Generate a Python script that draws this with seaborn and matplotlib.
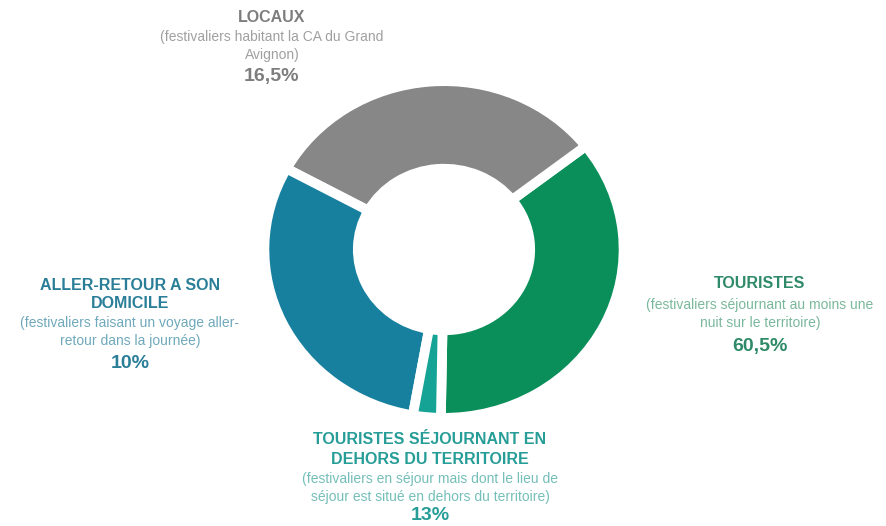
import matplotlib
matplotlib.use("Agg")
import matplotlib.pyplot as plt
import seaborn as sns

sns.set_theme(style="white")
plt.rcParams['font.family'] = ['Liberation Sans', 'DejaVu Sans']

# slices in drawing order (counter-clockwise from the bottom)
categories = ["TOURISTES", "LOCAUX", "ALLER-RETOUR A SON\nDOMICILE",
              "TOURISTES SÉJOURNANT EN\nDEHORS DU TERRITOIRE"]
slice_shares = [35.8, 31.5, 30.2, 2.5]   # share of the ring as drawn
label_pcts = ["60,5%", "16,5%", "10%", "13%"]
descriptions = [
    "(festivaliers séjournant au moins une\nnuit sur le territoire)",
    "(festivaliers habitant la CA du Grand\nAvignon)",
    "(festivaliers faisant un voyage aller-\nretour dans la journée)",
    "(festivaliers en séjour mais dont le lieu de\nséjour est situé en dehors du territoire)",
]
slice_colors = ["#0b8f5a", "#878787", "#17809f", "#15a395"]
title_colors = ["#2e8a68", "#7d7d7d", "#2a7e98", "#279d97"]
desc_colors = ["#7ab89c", "#a0a0a0", "#6fa9bb", "#74bfb9"]

W, H = 887, 526
fig = plt.figure(figsize=(W / 100, H / 100), dpi=100)
ax = fig.add_axes([0, 0, 1, 1])

cx, cy = 444, 249.5      # ring centre in pixels (from top)
rx, ry = 176, 165        # ring is slightly squashed vertically

ax.pie(slice_shares, colors=slice_colors, startangle=-91, counterclock=True,
       radius=1.0, wedgeprops=dict(width=0.52, edgecolor="white", linewidth=7))
ax.set_aspect("auto")
pad = 3.5 / rx  # account for white edge shrinking the outer boundary
ax.set_xlim(-cx / rx * (1 - pad), (W - cx) / rx * (1 - pad))
ax.set_ylim(-(H - cy) / ry * (1 - pad), cy / ry * (1 - pad))
ax.axis("off")

# label blocks: centre x, title y, desc y, pct y (pixels from top)
label_pos = [
    (760, [283], [305, 323], 346),
    (272, [17], [37, 55], 77),
    (130, [285, 304], [323, 341], 363),
    (430, [440, 460], [479, 497], 516),
]

for i, (x, ty, dy, py) in enumerate(label_pos):
    tlines = categories[i].split("\n")
    for line, yy in zip(tlines, ty):
        fig.text(x / W, 1 - yy / H, line, ha="center", va="center",
                 fontsize=11.5, fontweight="bold", color=title_colors[i])
    dlines = descriptions[i].split("\n")
    for line, yy in zip(dlines, dy):
        fig.text(x / W, 1 - yy / H, line, ha="center", va="center",
                 fontsize=10, color=desc_colors[i])
    fig.text(x / W, 1 - py / H, label_pcts[i], ha="center", va="center",
             fontsize=14, fontweight="bold", color=title_colors[i])

fig.savefig("out.png", dpi=100, facecolor="white")
